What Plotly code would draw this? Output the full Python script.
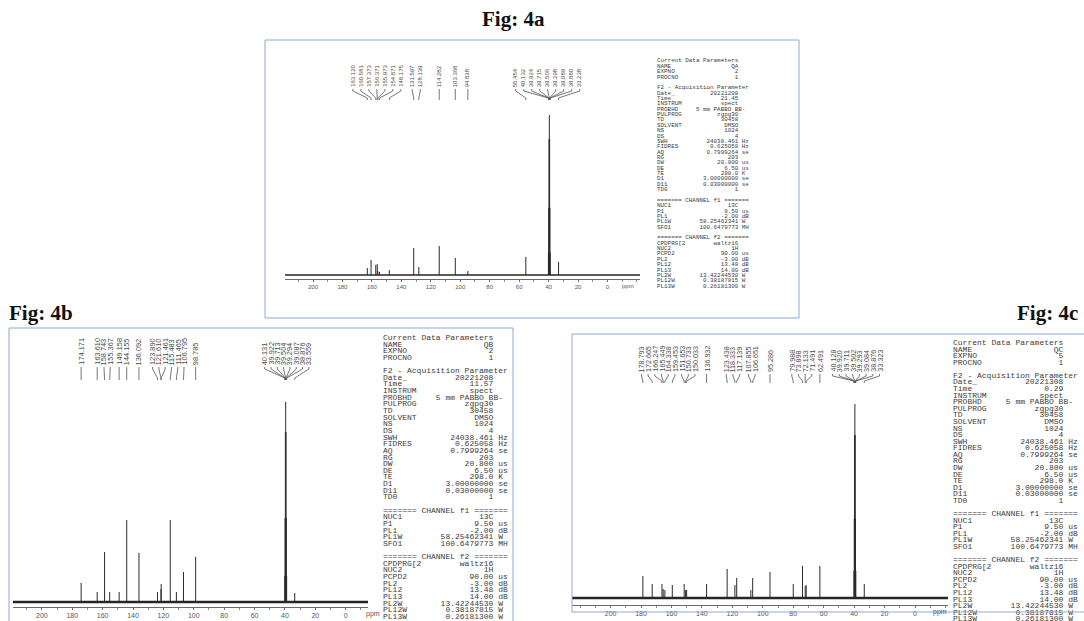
import plotly.graph_objects as go

W, H = 1084, 621
NB = "\u00a0"

# ---------------- DATA ----------------
# Fig 4a : 13C peaks (ppm) and relative intensities (% of tallest line)
a_ppm = [163.120, 160.581, 157.373, 156.371, 155.973, 154.871, 148.175, 131.597, 128.139,
         114.282, 103.368, 94.838, 55.454, 40.132, 39.924, 39.715, 39.506, 39.298, 39.089,
         38.880, 33.238]
a_int = [4.4, 9.4, 6.3, 6.9, 2.5, 1.9, 3.1, 16.9, 5.0,
         18.1, 10.6, 2.5, 11.3, 14, 42, 85, 100, 85, 42,
         14, 8.1]

# Fig 4b
b_ppm = [174.171, 163.610, 158.743, 155.367, 149.158, 144.155, 136.092, 123.890, 121.610,
         121.461, 115.483, 111.465, 106.795, 98.785, 40.131, 39.922, 39.713, 39.504, 39.294,
         39.087, 38.876, 33.559]
b_int = [9.5, 5.0, 25.0, 5.0, 5.0, 41.0, 24.6, 5.0, 6.5,
         9.0, 41.0, 5.0, 15.0, 22.6, 13, 42, 85, 100, 85,
         42, 13, 4.5]

# Fig 4c
c_ppm = [178.793, 172.665, 166.247, 165.449, 164.338, 159.453, 151.653, 150.733, 150.033,
         136.932, 123.438, 118.333, 117.139, 107.855, 106.651, 95.286, 79.988, 73.898,
         72.133, 71.491, 62.491, 40.128, 39.920, 39.711, 39.502, 39.293, 39.084, 38.876,
         33.323]
c_int = [11.3, 7.2, 7.2, 4.6, 4.1, 6.7, 7.2, 4.1, 4.1,
         7.2, 15.0, 6.7, 10.3, 4.1, 10.3, 13.4, 7.2, 16.5,
         6.2, 6.7, 16.5, 14, 41, 84, 100, 84, 41, 14,
         7.2]

tick_vals = [200, 180, 160, 140, 120, 100, 80, 60, 40, 20, 0]
tick_text = ["200", "180", "160", "140", "120", "100", "80", "60", "40", "20", "0"]

titles = ["Fig: 4a", "Fig: 4b", "Fig: 4c"]

# Acquisition parameter listing (TopSpin style)
param_keys = ["Current Data Parameters", "NAME", "EXPNO", "PROCNO", "",
              "F2 - Acquisition Parameters", "Date_", "Time", "INSTRUM", "PROBHD",
              "PULPROG", "TD", "SOLVENT", "NS", "DS", "SWH", "FIDRES", "AQ", "RG", "DW",
              "DE", "TE", "D1", "D11", "TD0", "",
              "======= CHANNEL f1 =======", "NUC1", "P1", "PL1", "PL1W", "SFO1", "",
              "======= CHANNEL f2 =======", "CPDPRG[2", "NUC2", "PCPD2", "PL2", "PL12",
              "PL13", "PL2W", "PL12W", "PL13W"]
param_values = [None, "NAME", "EXPNO", "1", "",
                None, "DATE", "TIME", "spect", "5 mm PABBO BB-",
                "zgpg30", "30458", "DMSO", "1024", "4", "24038.461", "0.625058", "0.7999264", "203", "20.800",
                "6.50", "298.0", "3.00000000", "0.03000000", "1", "",
                None, "13C", "9.50", "-2.00", "58.25462341", "100.6479773", "",
                None, "waltz16", "1H", "90.00", "-3.00", "13.48",
                "14.00", "13.42244530", "0.38187815", "0.26181300"]
param_units = ["", "", "", "", "",
               "", "", "", "", "",
               "", "", "", "", "", "Hz", "Hz", "sec", "", "usec",
               "usec", "K", "sec", "sec", "", "",
               "", "", "usec", "dB", "W", "MHz", "",
               "", "", "", "usec", "dB", "dB",
               "dB", "W", "W", "W"]
spec_names = ["QA", "QB", "QC"]
spec_expno = ["2", "2", "5"]
spec_dates = ["20221208", "20221208", "20221308"]
spec_times = ["21.45", "11.57", "0.29"]

# ---------------- LAYOUT GEOMETRY (pixels) ----------------
panels = [
    dict(ppm=a_ppm, inten=a_int, zero=607.5, k=1.4725, xl=285, xr=640,
         axis=279, base=275, top100=115, domtop=55, lab_bot=88, conn_bot=100,
         pitch=8.0, lab_font=6.0, tick_font=6, bw=1.5, ppm_x=628, ppm_y=286,
         box=(265, 40, 799, 318), key_x=657, line0=61, dline=5.36, pfont=5.9),
    dict(ppm=b_ppm, inten=b_int, zero=345.7, k=1.519, xl=12.7, xr=368,
         axis=607, base=602, top100=402, domtop=333, lab_bot=366, conn_bot=380,
         pitch=6.3, lab_font=7.4, tick_font=7, bw=2.5, ppm_x=373, ppm_y=614,
         box=(9, 328, 513, 640), key_x=383, line0=338, dline=6.64, pfont=8.0),
    dict(ppm=c_ppm, inten=c_int, zero=915.0, k=1.522, xl=572, xr=948,
         axis=605, base=598, top100=404, domtop=338, lab_bot=373, conn_bot=383,
         pitch=6.7, lab_font=7.2, tick_font=7, bw=2.5, ppm_x=940, ppm_y=612,
         box=(572, 334, 1100, 612), key_x=953, line0=343, dline=6.58, pfont=8.0),
]


def spread(xs, pitch):
    clusters = [[x] for x in xs]

    def start(cl):
        return sum(cl) / len(cl) - (len(cl) - 1) * pitch / 2

    while True:
        merged = False
        new = [clusters[0]]
        for cl in clusters[1:]:
            prev = new[-1]
            if start(cl) - (start(prev) + (len(prev) - 1) * pitch) < pitch:
                new[-1] = prev + cl
                merged = True
            else:
                new.append(cl)
        clusters = new
        if not merged:
            break
    out = []
    for cl in clusters:
        s = start(cl)
        out += [s + i * pitch for i in range(len(cl))]
    return out


def param_lines(idx):
    lines = []
    for key, val, unit in zip(param_keys, param_values, param_units):
        if val is None:
            s = key
        elif key == "":
            s = ""
        else:
            if val == "NAME":
                val = spec_names[idx]
            elif val == "EXPNO":
                val = spec_expno[idx]
            elif val == "DATE":
                val = spec_dates[idx]
            elif val == "TIME":
                val = spec_times[idx]
            if key == "PROBHD":
                s = key.ljust(11) + val
            else:
                s = key + " " * max(1, 23 - len(key) - len(val)) + val
                if unit:
                    s += " " + unit
        s = s[:26]
        lines.append(s.replace(" ", NB))
    return lines


fig = go.Figure()
layout = {}
annotations = []
shapes = []
suffix = ["", "2", "3"]

for i, P in enumerate(panels):
    xa, ya = "x" + suffix[i], "y" + suffix[i]
    ppm_l = (P["zero"] - P["xl"]) / P["k"]
    ppm_r = (P["zero"] - P["xr"]) / P["k"]
    unit = (P["base"] - P["top100"]) / 100.0
    ylo = -(P["axis"] - P["base"]) / unit
    yhi = (P["base"] - P["domtop"]) / unit

    def ydat(p, P=P, unit=unit):
        return (P["base"] - p) / unit

    # baseline
    fig.add_trace(go.Scatter(x=[ppm_l, ppm_r], y=[0, 0], mode="lines",
                             line=dict(color="#262626", width=P["bw"]),
                             xaxis=xa, yaxis=ya, hoverinfo="skip", showlegend=False))
    # peaks
    xs, ys = [], []
    for p, h in zip(P["ppm"], P["inten"]):
        xs += [p, p, None]
        ys += [0, h, None]
    fig.add_trace(go.Scatter(x=xs, y=ys, mode="lines",
                             line=dict(color="#2a2a2a", width=1),
                             xaxis=xa, yaxis=ya, hoverinfo="skip", showlegend=False))

    # peak labels
    px_peaks = [P["zero"] - P["k"] * p for p in P["ppm"]]
    order = sorted(range(len(px_peaks)), key=lambda j: px_peaks[j])
    lab_px = spread([px_peaks[j] for j in order], P["pitch"])
    cx, cy = [], []
    y_lb = P["lab_bot"]
    for j, lp in zip(order, lab_px):
        lppm = (P["zero"] - lp) / P["k"]
        pk = P["ppm"][j]
        annotations.append(dict(x=lppm, y=ydat(y_lb), xref=xa, yref=ya,
                                text="%.3f" % pk, textangle=-90, showarrow=False,
                                xanchor="center", yanchor="bottom", borderpad=0,
                                font=dict(family="Liberation Sans", size=P["lab_font"], color="#4a4a4a")))
        cx += [lppm, lppm, pk, pk, None]
        cy += [ydat(y_lb + 1), ydat(y_lb + 3), ydat(P["conn_bot"] - 2), ydat(P["conn_bot"]), None]
    fig.add_trace(go.Scatter(x=cx, y=cy, mode="lines", line=dict(color="#555", width=0.8),
                             xaxis=xa, yaxis=ya, hoverinfo="skip", showlegend=False))

    layout["xaxis" + suffix[i]] = dict(
        domain=[P["xl"] / W, P["xr"] / W], range=[ppm_l, ppm_r], anchor=ya,
        showgrid=False, zeroline=False, showline=True, linecolor="#6a6a6a", linewidth=1,
        ticks="outside", ticklen=2, tickcolor="#6a6a6a", tickmode="array",
        tickvals=tick_vals, ticktext=tick_text,
        tickfont=dict(family="Liberation Sans", size=P["tick_font"], color="#555"),
        minor=dict(tickmode="linear", tick0=0, dtick=10, ticks="outside", ticklen=1.5,
                   tickcolor="#888"))
    layout["yaxis" + suffix[i]] = dict(
        domain=[1 - P["axis"] / H, 1 - P["domtop"] / H], range=[ylo, yhi],
        visible=False, anchor=xa)

    # "ppm" axis unit label
    annotations.append(dict(x=P["ppm_x"], y=P["ppm_y"], xref="x4", yref="y4", text="ppm",
                            showarrow=False, xanchor="center", yanchor="middle",
                            font=dict(family="Liberation Sans", size=P["tick_font"], color="#555")))

    # panel frame
    x0, y0, x1, y1 = P["box"]
    shapes.append(dict(type="rect", xref="x4", yref="y4", x0=x0, y0=y0, x1=x1, y1=y1,
                       line=dict(color="#8eaad8", width=1), fillcolor="rgba(0,0,0,0)"))

    # parameter listing
    lines = param_lines(i)
    ly = [P["line0"] + n * P["dline"] for n in range(len(lines))]
    fig.add_trace(go.Scatter(x=[P["key_x"]] * len(lines), y=ly, text=lines, mode="text",
                             textposition="middle right",
                             textfont=dict(family="Liberation Mono", size=P["pfont"], color="#3c3c3c"),
                             xaxis="x4", yaxis="y4", hoverinfo="skip", showlegend=False))

# figure titles
title_font = dict(family="Liberation Serif", size=21, color="#111")
annotations.append(dict(x=513, y=19, xref="x4", yref="y4", text="<b>" + titles[0] + "</b>",
                        showarrow=False, xanchor="center", yanchor="middle", font=title_font))
annotations.append(dict(x=7, y=313, xref="x4", yref="y4", text="<b>" + titles[1] + "</b>",
                        showarrow=False, xanchor="left", yanchor="middle", font=title_font))
annotations.append(dict(x=1080, y=313, xref="x4", yref="y4", text="<b>" + titles[2] + "</b>",
                        showarrow=False, xanchor="right", yanchor="middle", font=title_font))

layout["xaxis4"] = dict(domain=[0, 1], range=[0, W], visible=False, anchor="y4")
layout["yaxis4"] = dict(domain=[0, 1], range=[H, 0], visible=False, anchor="x4")

fig.update_layout(**layout)
fig.update_layout(width=W, height=H, margin=dict(l=0, r=0, t=0, b=0),
                  paper_bgcolor="white", plot_bgcolor="rgba(0,0,0,0)",
                  showlegend=False, annotations=annotations, shapes=shapes)

fig.write_html("out.html", config={"displayModeBar": False},
               post_script="document.body.style.margin='0px';document.body.style.overflow='hidden';")
